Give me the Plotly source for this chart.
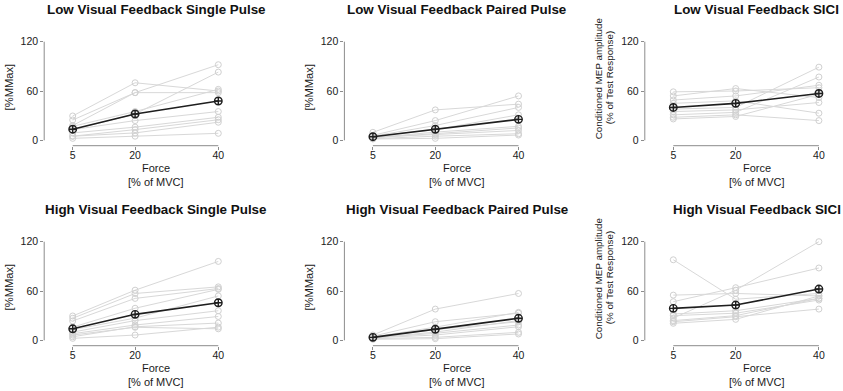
import plotly.graph_objects as go

# ---------------- data ----------------
FORCE = [5, 20, 40]
X_TICKS = [5, 20, 40]
Y_TICKS = [0, 60, 120]

TITLES = [
    "Low Visual Feedback Single Pulse",
    "Low Visual Feedback Paired Pulse",
    "Low Visual Feedback SICI",
    "High Visual Feedback Single Pulse",
    "High Visual Feedback Paired Pulse",
    "High Visual Feedback SICI",
]
YLABEL_MEP = "[%MMax]"
YLABEL_SICI = ["Conditioned MEP amplitude", "(% of Test Response)"]
XLABEL = ["Force", "[% of MVC]"]

lvf_sp_subjects = [
    [29.6, 70, 60], [24.7, 58, 92], [18, 58, 58], [13, 32, 83], [13, 24, 35],
    [9, 16, 28], [5, 13, 25], [5, 9, 22], [2.4, 5, 8.5], [17, 35, 62],
]
lvf_sp_mean = [13.5, 32, 47.8]

lvf_pp_subjects = [
    [9.7, 37, 44], [6, 24, 54], [5, 18, 40], [5, 13, 31], [3, 10, 17],
    [3, 8, 15], [2, 5, 8], [1.6, 2.4, 6.4], [4, 7, 12],
]
lvf_pp_mean = [4.4, 13.4, 25.5]

lvf_sici_subjects = [
    [59, 60, 64], [54, 63, 52], [49, 54, 67], [45, 48, 33], [38, 40, 89],
    [35, 37, 46], [31, 34, 77], [28, 31, 24], [26, 29, 56],
]
lvf_sici_mean = [40, 45, 57]

hvf_sp_subjects = [
    [29.6, 61, 96], [26.8, 57, 65], [23.5, 51, 63], [16, 39, 62], [13, 27, 54],
    [10, 24, 36], [8, 18.6, 29], [4.3, 16.5, 21], [6.4, 15.8, 14], [2.4, 6.4, 16],
]
hvf_sp_mean = [14, 31.6, 45.7]

hvf_pp_subjects = [
    [6.4, 38, 57], [5, 22.6, 33], [4, 16, 34], [4, 13, 22.6], [3, 8.5, 18.6],
    [3, 6.4, 16.5], [2, 3.6, 9.7], [1.2, 2, 7.7], [3, 10, 24],
]
hvf_pp_mean = [3.6, 13.4, 26.8]

hvf_sici_subjects = [
    [98, 50, 57], [55, 57, 54], [47, 64, 88], [27, 61, 120], [32, 36, 51],
    [30, 33, 49], [22.6, 28.7, 38], [20.7, 25.5, 54], [24, 30, 51],
]
hvf_sici_mean = [38.9, 42.9, 62.4]

PANELS = [
    (lvf_sp_subjects, lvf_sp_mean, "mep"),
    (lvf_pp_subjects, lvf_pp_mean, "mep"),
    (lvf_sici_subjects, lvf_sici_mean, "sici"),
    (hvf_sp_subjects, hvf_sp_mean, "mep"),
    (hvf_pp_subjects, hvf_pp_mean, "mep"),
    (hvf_sici_subjects, hvf_sici_mean, "sici"),
]

# ---------------- layout geometry (pixels) ----------------
W, H = 843, 391
COL_X5 = [72.7, 372.9, 673.3]   # pixel position of x=5 in each column
ROW_OFF = [0, 200]
PX_PER_X = 145.6 / 35.0
Y0_PX, Y120_PX = 140.3, 41.7
PX_PER_Y = (Y0_PX - Y120_PX) / 120.0
AXIS_PX = 145.7          # x-axis line (bottom of plot region)
TOP_PX = 30.0            # top of plot region
LEFT_GAP = 28.5          # y-axis line left of x=5
RIGHT_EXT = 160.0        # plot region right of x=5
CENTER_DX = 83.6         # title / xlabel center right of x=5

FONT = "Arial, Liberation Sans, sans-serif"
GREY_LINE = "#d8d8d8"
GREY_MARK = "#d0d0d0"
AXIS_COL = "#8c8c8c"
TEXT_COL = "#1a1a1a"

fig = go.Figure()
shapes = []
annotations = []

def px_to_paper_x(px):
    return px / W

def px_to_paper_y(py):
    return 1 - py / H

for k, (subjects, mean, kind) in enumerate(PANELS):
    row, col = divmod(k, 3)
    s = "" if k == 0 else str(k + 1)
    x5 = COL_X5[col]
    off = ROW_OFF[row]

    for subj in subjects:
        fig.add_trace(go.Scatter(
            x=FORCE, y=subj, xaxis="x" + s, yaxis="y" + s,
            mode="lines+markers",
            line=dict(color=GREY_LINE, width=1),
            marker=dict(symbol="circle-open", size=6, color=GREY_MARK,
                        line=dict(width=1, color=GREY_MARK)),
            hoverinfo="skip", showlegend=False,
        ))
    fig.add_trace(go.Scatter(
        x=FORCE, y=mean, xaxis="x" + s, yaxis="y" + s,
        mode="lines+markers",
        line=dict(color="#1e1e1e", width=1.6),
        marker=dict(symbol="circle-cross-open", size=7.5, color="#1e1e1e",
                    line=dict(width=1.4, color="#1e1e1e")),
        showlegend=False,
    ))

    left_px = x5 - LEFT_GAP
    right_px = x5 + RIGHT_EXT
    bot_px = AXIS_PX + off
    top_px = TOP_PX + off
    xr = [5 - LEFT_GAP / PX_PER_X, 5 + RIGHT_EXT / PX_PER_X]
    yr = [-(AXIS_PX - Y0_PX) / PX_PER_Y, (Y0_PX - TOP_PX) / PX_PER_Y]

    fig.layout["xaxis" + s] = dict(
        domain=[px_to_paper_x(left_px), px_to_paper_x(right_px)],
        range=xr, anchor="y" + s, tickvals=X_TICKS,
        ticktext=[str(v) for v in X_TICKS],
        ticks="outside", ticklen=3, tickwidth=1, tickcolor=AXIS_COL,
        ticklabelstandoff=-3,
        showgrid=False, zeroline=False, showline=False, fixedrange=True,
        tickfont=dict(family=FONT, size=10.5, color=TEXT_COL),
    )
    fig.layout["yaxis" + s] = dict(
        domain=[px_to_paper_y(bot_px), px_to_paper_y(top_px)],
        range=yr, anchor="x" + s, tickvals=Y_TICKS,
        ticktext=[str(v) for v in Y_TICKS],
        ticks="outside", ticklen=3, tickwidth=1, tickcolor=AXIS_COL,
        showgrid=False, zeroline=False, showline=False, fixedrange=True,
        tickfont=dict(family=FONT, size=10.5, color=TEXT_COL),
    )

    # R-style axis lines spanning only the tick range
    shapes.append(dict(type="line", xref=("x" + s + " domain"), yref="y" + s,
                       x0=0, x1=0, y0=Y_TICKS[0], y1=Y_TICKS[-1],
                       line=dict(color=AXIS_COL, width=1)))
    shapes.append(dict(type="line", xref="x" + s, yref=("y" + s + " domain"),
                       x0=X_TICKS[0], x1=X_TICKS[-1], y0=0, y1=0,
                       line=dict(color=AXIS_COL, width=1)))

    cx = px_to_paper_x(x5 + CENTER_DX)
    # title
    annotations.append(dict(
        text="<b>" + TITLES[k] + "</b>", x=cx, y=px_to_paper_y(9.3 + off),
        xref="paper", yref="paper", xanchor="center", yanchor="middle",
        showarrow=False, font=dict(family=FONT, size=13.4, color="#111")))
    # x labels
    for txt, py in zip(XLABEL, [167.7, 181.7]):
        annotations.append(dict(
            text=txt, x=cx, y=px_to_paper_y(py + off),
            xref="paper", yref="paper", xanchor="center", yanchor="middle",
            showarrow=False, font=dict(family=FONT, size=11, color=TEXT_COL)))
    # y labels
    if kind == "mep":
        annotations.append(dict(
            text=YLABEL_MEP, x=px_to_paper_x(x5 - 64), y=px_to_paper_y(86.7 + off),
            xref="paper", yref="paper", xanchor="center", yanchor="middle",
            textangle=-90, showarrow=False,
            font=dict(family=FONT, size=11.2, color=TEXT_COL)))
    else:
        for txt, dx in zip(YLABEL_SICI, [-75, -64]):
            annotations.append(dict(
                text=txt, x=px_to_paper_x(x5 + dx), y=px_to_paper_y(78 + off),
                xref="paper", yref="paper", xanchor="center", yanchor="middle",
                textangle=-90, showarrow=False,
                font=dict(family=FONT, size=9.8, color=TEXT_COL)))

fig.update_layout(
    width=W, height=H,
    margin=dict(l=0, r=0, t=0, b=0),
    paper_bgcolor="white", plot_bgcolor="white",
    shapes=shapes, annotations=annotations,
    showlegend=False,
)

fig.write_html(
    "out.html",
    config={"displayModeBar": False},
    post_script="document.body.style.margin='0';document.body.style.padding='0';"
                "document.body.style.overflow='hidden';",
)
